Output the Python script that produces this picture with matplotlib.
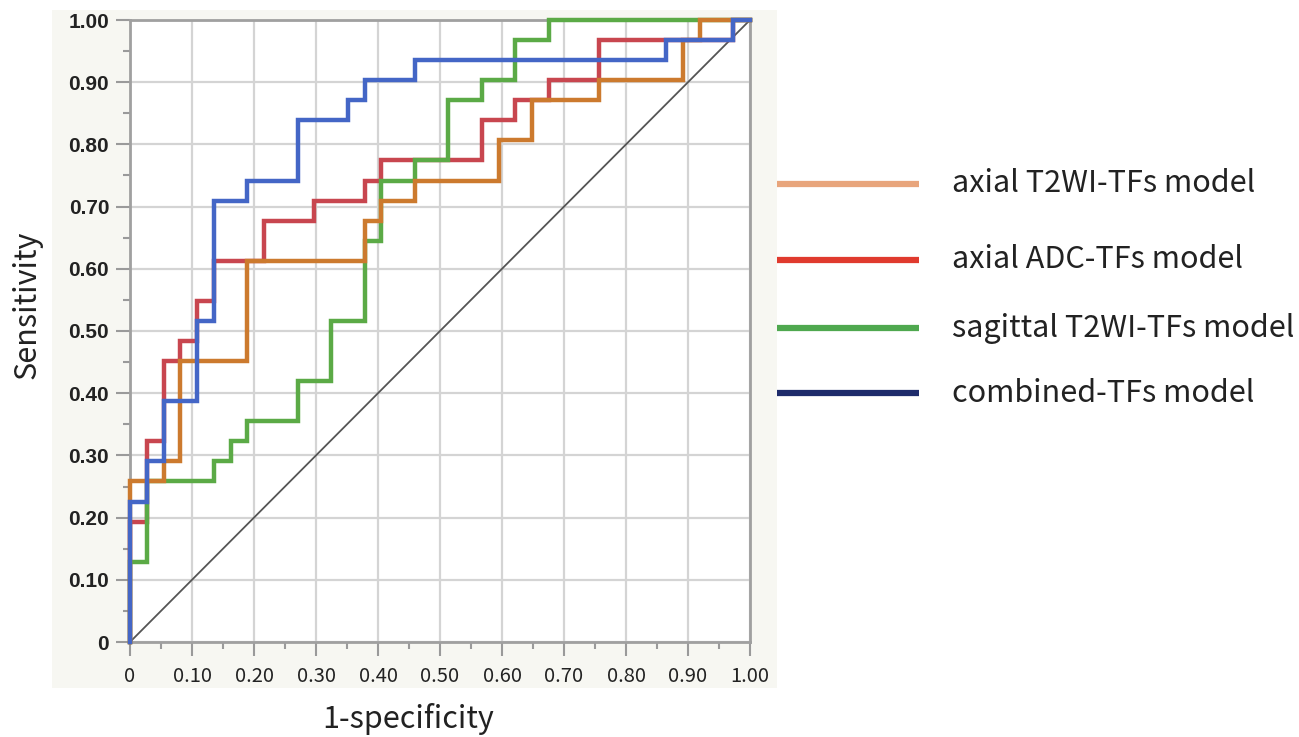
import matplotlib
matplotlib.use("Agg")
import matplotlib.pyplot as plt
from matplotlib.lines import Line2D
from matplotlib.patches import Rectangle
import numpy as np

N_NEG = 37
N_POS = 31

# ROC step vertices as counts (false positives, true positives)
t2_fp = [0, 0, 2, 2, 3, 3, 7, 7, 14, 14, 15, 15, 17, 17, 22, 22, 24, 24, 28, 28, 33, 33, 34, 34, 37]
t2_tp = [0, 8, 8, 9, 9, 14, 14, 19, 19, 21, 21, 22, 22, 23, 23, 25, 25, 27, 27, 28, 28, 30, 30, 31, 31]

adc_fp = [0, 0, 1, 1, 2, 2, 3, 3, 4, 4, 5, 5, 8, 8, 11, 11, 14, 14, 15, 15, 21, 21, 23, 23, 25, 25, 28, 28, 36, 36, 37]
adc_tp = [0, 6, 6, 10, 10, 14, 14, 15, 15, 17, 17, 19, 19, 21, 21, 22, 22, 23, 23, 24, 24, 26, 26, 27, 27, 28, 28, 30, 30, 31, 31]

sag_fp = [0, 0, 1, 1, 5, 5, 6, 6, 7, 7, 10, 10, 12, 12, 14, 14, 15, 15, 17, 17, 19, 19, 21, 21, 23, 23, 25, 25, 37]
sag_tp = [0, 4, 4, 8, 8, 9, 9, 10, 10, 11, 11, 13, 13, 16, 16, 20, 20, 23, 23, 24, 24, 27, 27, 28, 28, 30, 30, 31, 31]

comb_fp = [0, 0, 1, 1, 2, 2, 4, 4, 5, 5, 7, 7, 10, 10, 13, 13, 14, 14, 17, 17, 32, 32, 36, 36, 37]
comb_tp = [0, 7, 7, 9, 9, 12, 12, 16, 16, 22, 22, 23, 23, 26, 26, 27, 27, 28, 28, 29, 29, 30, 30, 31, 31]

legend_labels = ["axial T2WI-TFs model", "axial ADC-TFs model",
                 "sagittal T2WI-TFs model", "combined-TFs model"]
curve_colors = ["#CC7A2E", "#C8464F", "#5BAA46", "#4466C6"]
legend_colors = ["#E8A57C", "#E03A2E", "#4FA84F", "#1E2B6B"]
ticks = [0, 0.1, 0.2, 0.3, 0.4, 0.5, 0.6, 0.7, 0.8, 0.9, 1.0]
tick_labels = ["0", "0.10", "0.20", "0.30", "0.40", "0.50", "0.60", "0.70", "0.80", "0.90", "1.00"]

W, H = 1299, 737
fig = plt.figure(figsize=(W / 100, H / 100), dpi=100)
fig.patch.set_facecolor("white")

# beige panel behind plot
fig.add_artist(Rectangle((52 / W, 1 - 688 / H), (777 - 52) / W, (688 - 10) / H,
                         transform=fig.transFigure, facecolor="#F7F7F2",
                         edgecolor="none", zorder=0))

ax = fig.add_axes([130 / W, 1 - 642 / H, 620 / W, 622 / H])
ax.set_facecolor("white")
ax.set_xlim(0, 1)
ax.set_ylim(0, 1)

lab_font = ["Noto Sans CJK JP", "DejaVu Sans"]

ax.set_xticks(ticks)
ax.set_yticks(ticks)
ax.set_xticks(np.arange(0.05, 1.0, 0.1), minor=True)
ax.set_yticks(np.arange(0.05, 1.0, 0.1), minor=True)
ax.set_xticklabels(tick_labels, family=lab_font, fontsize=14.5, color="#222222")
ax.set_yticklabels(tick_labels, family=["Liberation Sans", "DejaVu Sans"], fontsize=15,
                   fontweight="bold", color="#222222")
ax.tick_params(which="major", length=10, width=1.5, color="#9A9A9A", pad=5)
ax.tick_params(which="minor", length=5, width=1.5, color="#9A9A9A")
ax.tick_params(axis="x", which="major", pad=7)
ax.grid(True, which="major", color="#D4D4D4", linewidth=1.6, zorder=0)
ax.set_axisbelow(True)
for s in ax.spines.values():
    s.set_color("#A0A0A0")
    s.set_linewidth(2)

ax.plot([0, 1], [0, 1], color="#555555", linewidth=1.3, zorder=2)

series = [(t2_fp, t2_tp), (adc_fp, adc_tp), (sag_fp, sag_tp), (comb_fp, comb_tp)]
zorders = [5, 3, 4, 6]
for (fp, tp), c, z in zip(series, curve_colors, zorders):
    ax.plot(np.array(fp) / N_NEG, np.array(tp) / N_POS, color=c, linewidth=3.2,
            solid_joinstyle="miter", zorder=z, clip_on=False)

# axis titles
fig.text(408 / W, 1 - 719 / H, "1-specificity", family=lab_font, fontsize=22,
         color="#222222", ha="center", va="center")
fig.text(27 / W, 1 - 305 / H, "Sensitivity", family=lab_font, fontsize=22,
         color="#222222", ha="center", va="center", rotation=90)

# manual legend
leg_y = [184, 260, 328, 393]
for ypx, c, lab in zip(leg_y, legend_colors, legend_labels):
    y = 1 - ypx / H
    fig.add_artist(Line2D([777 / W, 919 / W], [y, y], transform=fig.transFigure,
                          color=c, linewidth=4.5, solid_capstyle="butt"))
    fig.text(952 / W, y, lab, family=lab_font, fontsize=22, color="#222222",
             va="center", ha="left")

fig.savefig("out.png", dpi=100)
